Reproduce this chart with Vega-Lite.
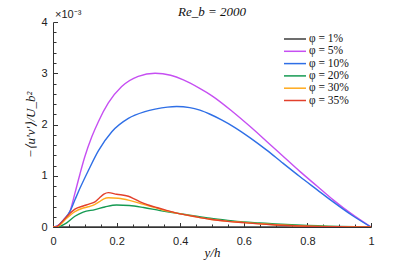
{
  "$schema": "https://vega.github.io/schema/vega-lite/v6.json",
  "width": 318,
  "height": 205,
  "autosize": {"type": "none"},
  "padding": {"left": 53, "top": 22, "right": 40, "bottom": 39},
  "background": "white",
  "title": {"text": "Re_b = 2000", "font": "Liberation Serif", "fontStyle": "italic", "fontWeight": "normal", "fontSize": 13, "color": "#111", "anchor": "middle", "offset": -10},
  "config": {"view": {"stroke": null}},
  "resolve": {"axis": {"x": "independent", "y": "independent"}},
  "data": {"values": [
    {"p": "φ = 1%", "x": 0, "v": 0}, {"p": "φ = 1%", "x": 0.5, "v": 0}, {"p": "φ = 1%", "x": 1, "v": 0},
    {"p": "φ = 5%", "x": 0, "v": 0}, {"p": "φ = 5%", "x": 0.01, "v": 0.01}, {"p": "φ = 5%", "x": 0.02, "v": 0.05}, {"p": "φ = 5%", "x": 0.035, "v": 0.15}, {"p": "φ = 5%", "x": 0.053, "v": 0.3}, {"p": "φ = 5%", "x": 0.069, "v": 0.66}, {"p": "φ = 5%", "x": 0.085, "v": 1.04}, {"p": "φ = 5%", "x": 0.1, "v": 1.37}, {"p": "φ = 5%", "x": 0.122, "v": 1.76}, {"p": "φ = 5%", "x": 0.143, "v": 2.06}, {"p": "φ = 5%", "x": 0.174, "v": 2.42}, {"p": "φ = 5%", "x": 0.216, "v": 2.74}, {"p": "φ = 5%", "x": 0.268, "v": 2.94}, {"p": "φ = 5%", "x": 0.321, "v": 3.0}, {"p": "φ = 5%", "x": 0.37, "v": 2.96}, {"p": "φ = 5%", "x": 0.41, "v": 2.87}, {"p": "φ = 5%", "x": 0.46, "v": 2.71}, {"p": "φ = 5%", "x": 0.5, "v": 2.56}, {"p": "φ = 5%", "x": 0.567, "v": 2.24}, {"p": "φ = 5%", "x": 0.62, "v": 1.96}, {"p": "φ = 5%", "x": 0.672, "v": 1.67}, {"p": "φ = 5%", "x": 0.72, "v": 1.4}, {"p": "φ = 5%", "x": 0.777, "v": 1.08}, {"p": "φ = 5%", "x": 0.83, "v": 0.8}, {"p": "φ = 5%", "x": 0.881, "v": 0.53}, {"p": "φ = 5%", "x": 0.94, "v": 0.25}, {"p": "φ = 5%", "x": 1, "v": 0},
    {"p": "φ = 10%", "x": 0, "v": 0}, {"p": "φ = 10%", "x": 0.01, "v": 0.01}, {"p": "φ = 10%", "x": 0.02, "v": 0.05}, {"p": "φ = 10%", "x": 0.035, "v": 0.15}, {"p": "φ = 10%", "x": 0.053, "v": 0.3}, {"p": "φ = 10%", "x": 0.069, "v": 0.53}, {"p": "φ = 10%", "x": 0.085, "v": 0.76}, {"p": "φ = 10%", "x": 0.111, "v": 1.1}, {"p": "φ = 10%", "x": 0.143, "v": 1.49}, {"p": "φ = 10%", "x": 0.185, "v": 1.86}, {"p": "φ = 10%", "x": 0.237, "v": 2.12}, {"p": "φ = 10%", "x": 0.289, "v": 2.25}, {"p": "φ = 10%", "x": 0.321, "v": 2.3}, {"p": "φ = 10%", "x": 0.36, "v": 2.34}, {"p": "φ = 10%", "x": 0.389, "v": 2.35}, {"p": "φ = 10%", "x": 0.43, "v": 2.33}, {"p": "φ = 10%", "x": 0.462, "v": 2.28}, {"p": "φ = 10%", "x": 0.494, "v": 2.2}, {"p": "φ = 10%", "x": 0.53, "v": 2.09}, {"p": "φ = 10%", "x": 0.567, "v": 1.96}, {"p": "φ = 10%", "x": 0.62, "v": 1.74}, {"p": "φ = 10%", "x": 0.672, "v": 1.5}, {"p": "φ = 10%", "x": 0.72, "v": 1.26}, {"p": "φ = 10%", "x": 0.777, "v": 0.98}, {"p": "φ = 10%", "x": 0.83, "v": 0.73}, {"p": "φ = 10%", "x": 0.881, "v": 0.49}, {"p": "φ = 10%", "x": 0.94, "v": 0.23}, {"p": "φ = 10%", "x": 1, "v": 0},
    {"p": "φ = 20%", "x": 0, "v": 0}, {"p": "φ = 20%", "x": 0.015, "v": 0}, {"p": "φ = 20%", "x": 0.025, "v": 0.02}, {"p": "φ = 20%", "x": 0.043, "v": 0.08}, {"p": "φ = 20%", "x": 0.069, "v": 0.21}, {"p": "φ = 20%", "x": 0.095, "v": 0.29}, {"p": "φ = 20%", "x": 0.132, "v": 0.34}, {"p": "φ = 20%", "x": 0.163, "v": 0.39}, {"p": "φ = 20%", "x": 0.2, "v": 0.43}, {"p": "φ = 20%", "x": 0.24, "v": 0.42}, {"p": "φ = 20%", "x": 0.285, "v": 0.38}, {"p": "φ = 20%", "x": 0.337, "v": 0.32}, {"p": "φ = 20%", "x": 0.389, "v": 0.27}, {"p": "φ = 20%", "x": 0.44, "v": 0.22}, {"p": "φ = 20%", "x": 0.494, "v": 0.17}, {"p": "φ = 20%", "x": 0.55, "v": 0.13}, {"p": "φ = 20%", "x": 0.6, "v": 0.1}, {"p": "φ = 20%", "x": 0.65, "v": 0.08}, {"p": "φ = 20%", "x": 0.7, "v": 0.06}, {"p": "φ = 20%", "x": 0.75, "v": 0.045}, {"p": "φ = 20%", "x": 0.8, "v": 0.03}, {"p": "φ = 20%", "x": 0.85, "v": 0.02}, {"p": "φ = 20%", "x": 0.9, "v": 0.01}, {"p": "φ = 20%", "x": 0.95, "v": 0.004}, {"p": "φ = 20%", "x": 1, "v": 0},
    {"p": "φ = 30%", "x": 0, "v": 0}, {"p": "φ = 30%", "x": 0.01, "v": 0}, {"p": "φ = 30%", "x": 0.022, "v": 0.04}, {"p": "φ = 30%", "x": 0.043, "v": 0.17}, {"p": "φ = 30%", "x": 0.069, "v": 0.3}, {"p": "φ = 30%", "x": 0.095, "v": 0.37}, {"p": "φ = 30%", "x": 0.115, "v": 0.4}, {"p": "φ = 30%", "x": 0.132, "v": 0.44}, {"p": "φ = 30%", "x": 0.145, "v": 0.49}, {"p": "φ = 30%", "x": 0.16, "v": 0.55}, {"p": "φ = 30%", "x": 0.174, "v": 0.57}, {"p": "φ = 30%", "x": 0.205, "v": 0.56}, {"p": "φ = 30%", "x": 0.24, "v": 0.52}, {"p": "φ = 30%", "x": 0.285, "v": 0.44}, {"p": "φ = 30%", "x": 0.326, "v": 0.37}, {"p": "φ = 30%", "x": 0.36, "v": 0.31}, {"p": "φ = 30%", "x": 0.389, "v": 0.27}, {"p": "φ = 30%", "x": 0.44, "v": 0.21}, {"p": "φ = 30%", "x": 0.494, "v": 0.15}, {"p": "φ = 30%", "x": 0.55, "v": 0.11}, {"p": "φ = 30%", "x": 0.6, "v": 0.088}, {"p": "φ = 30%", "x": 0.65, "v": 0.063}, {"p": "φ = 30%", "x": 0.7, "v": 0.043}, {"p": "φ = 30%", "x": 0.75, "v": 0.028}, {"p": "φ = 30%", "x": 0.8, "v": 0.017}, {"p": "φ = 30%", "x": 0.85, "v": 0.01}, {"p": "φ = 30%", "x": 0.9, "v": 0.005}, {"p": "φ = 30%", "x": 0.95, "v": 0.002}, {"p": "φ = 30%", "x": 1, "v": 0},
    {"p": "φ = 35%", "x": 0, "v": 0}, {"p": "φ = 35%", "x": 0.01, "v": 0}, {"p": "φ = 35%", "x": 0.022, "v": 0.06}, {"p": "φ = 35%", "x": 0.043, "v": 0.2}, {"p": "φ = 35%", "x": 0.069, "v": 0.35}, {"p": "φ = 35%", "x": 0.095, "v": 0.41}, {"p": "φ = 35%", "x": 0.115, "v": 0.45}, {"p": "φ = 35%", "x": 0.132, "v": 0.49}, {"p": "φ = 35%", "x": 0.145, "v": 0.56}, {"p": "φ = 35%", "x": 0.16, "v": 0.64}, {"p": "φ = 35%", "x": 0.174, "v": 0.67}, {"p": "φ = 35%", "x": 0.2, "v": 0.64}, {"p": "φ = 35%", "x": 0.237, "v": 0.6}, {"p": "φ = 35%", "x": 0.255, "v": 0.55}, {"p": "φ = 35%", "x": 0.274, "v": 0.49}, {"p": "φ = 35%", "x": 0.3, "v": 0.43}, {"p": "φ = 35%", "x": 0.326, "v": 0.38}, {"p": "φ = 35%", "x": 0.36, "v": 0.32}, {"p": "φ = 35%", "x": 0.389, "v": 0.27}, {"p": "φ = 35%", "x": 0.44, "v": 0.21}, {"p": "φ = 35%", "x": 0.494, "v": 0.15}, {"p": "φ = 35%", "x": 0.55, "v": 0.11}, {"p": "φ = 35%", "x": 0.6, "v": 0.085}, {"p": "φ = 35%", "x": 0.65, "v": 0.06}, {"p": "φ = 35%", "x": 0.7, "v": 0.04}, {"p": "φ = 35%", "x": 0.75, "v": 0.025}, {"p": "φ = 35%", "x": 0.8, "v": 0.015}, {"p": "φ = 35%", "x": 0.85, "v": 0.008}, {"p": "φ = 35%", "x": 0.9, "v": 0.004}, {"p": "φ = 35%", "x": 0.95, "v": 0.002}, {"p": "φ = 35%", "x": 1, "v": 0}
  ]},
  "layer": [
    {
      "mark": {"type": "line", "strokeWidth": 1.4, "interpolate": "monotone", "clip": true},
      "encoding": {
        "x": {"field": "x", "type": "quantitative", "scale": {"domain": [0, 1], "nice": false, "zero": false},
          "axis": {"orient": "bottom", "title": "y/h", "titleFont": "Liberation Serif", "titleFontStyle": "italic", "titleFontWeight": "normal", "titleFontSize": 13, "titleColor": "#111", "titlePadding": 0,
            "values": [0, 0.2, 0.4, 0.6, 0.8, 1], "format": "~g",
            "labelFont": "Liberation Sans", "labelFontSize": 11, "labelColor": "#222", "labelPadding": 12.5, "labelFlush": false, "labelOverlap": false,
            "tickSize": -4.5, "tickColor": "#333", "tickWidth": 1,
            "domainColor": "#333", "domainWidth": 1, "grid": false}},
        "y": {"field": "v", "type": "quantitative", "scale": {"domain": [0, 4], "nice": false},
          "axis": {"orient": "left", "title": "−⟨u′v′⟩/U_b²", "titleFont": "Liberation Serif", "titleFontStyle": "italic", "titleFontWeight": "normal", "titleFontSize": 13, "titleColor": "#111", "titlePadding": 3.5,
            "values": [0, 1, 2, 3, 4], "format": "~g",
            "labelFont": "Liberation Sans", "labelFontSize": 11, "labelColor": "#222", "labelPadding": 10.5, "labelFlush": false, "labelOverlap": false,
            "tickSize": -4.5, "tickColor": "#333", "tickWidth": 1,
            "domainColor": "#333", "domainWidth": 1, "grid": false}},
        "color": {"field": "p", "type": "nominal",
          "scale": {"domain": ["φ = 1%", "φ = 5%", "φ = 10%", "φ = 20%", "φ = 30%", "φ = 35%"],
                    "range": ["#3c3c3c", "#c64ff2", "#2f6fe6", "#159a52", "#ffaa1d", "#e2402c"]},
          "legend": {"title": null, "orient": "none", "legendX": 236, "legendY": 11, "symbolType": "M-2.2,0H2.2", "symbolSize": 100, "symbolStrokeWidth": 1.5,
            "labelFont": "Liberation Serif", "labelFontSize": 11.5, "labelColor": "#111", "labelOffset": 8, "rowPadding": 0.3, "symbolOffset": 0, "padding": 0}}
      }
    },
    {
      "data": {"values": [{"x": 0, "v": 4, "t": "×10⁻³"}]},
      "mark": {"type": "text", "align": "left", "baseline": "bottom", "dx": 2, "dy": -2, "font": "Liberation Sans", "fontSize": 11, "color": "#222"},
      "encoding": {
        "x": {"field": "x", "type": "quantitative",
          "axis": {"orient": "bottom", "title": null, "labels": false, "domain": false, "grid": false,
            "values": [0.05,0.1,0.15,0.25,0.3,0.35,0.45,0.5,0.55,0.65,0.7,0.75,0.85,0.9,0.95],
            "tickSize": -3, "tickColor": "#333", "tickWidth": 1}},
        "y": {"field": "v", "type": "quantitative",
          "axis": {"orient": "left", "title": null, "labels": false, "domain": false, "grid": false,
            "values": [0.2,0.4,0.6,0.8,1.2,1.4,1.6,1.8,2.2,2.4,2.6,2.8,3.2,3.4,3.6,3.8],
            "tickSize": -3, "tickColor": "#333", "tickWidth": 1}},
        "text": {"field": "t"}
      }
    }
  ]
}
